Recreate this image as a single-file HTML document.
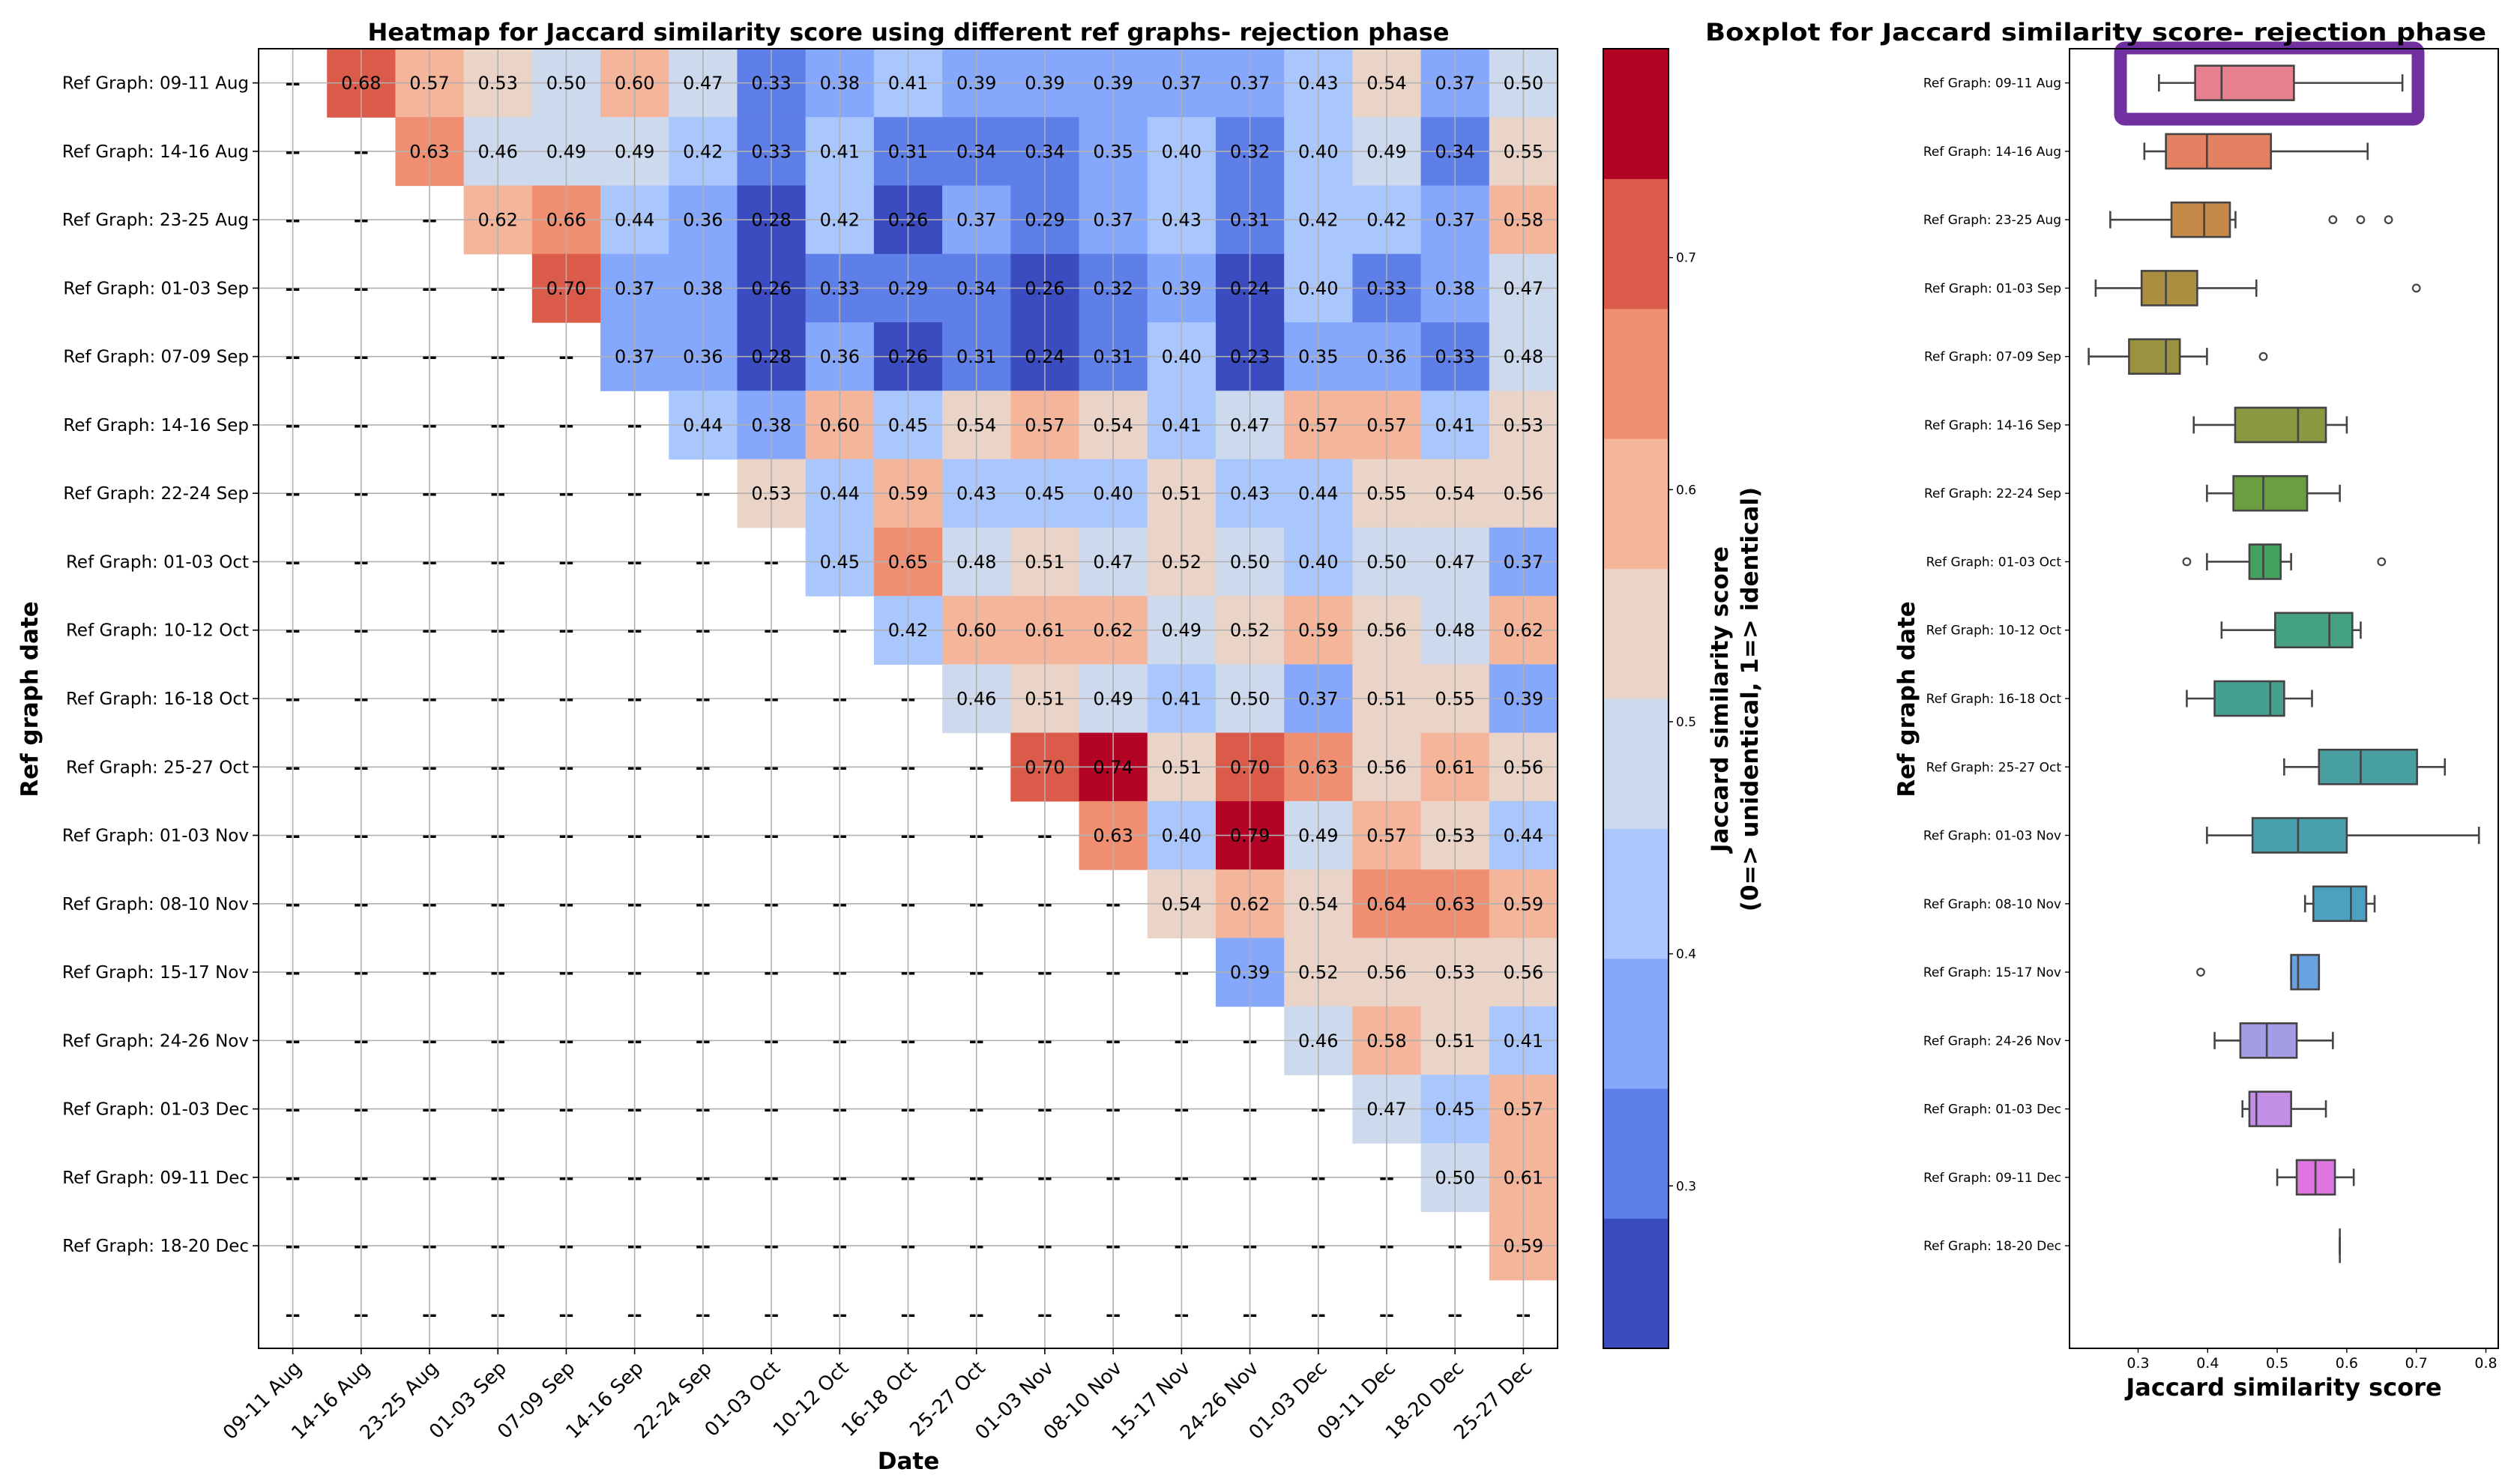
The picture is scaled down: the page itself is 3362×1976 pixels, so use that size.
<!DOCTYPE html>
<html><head><meta charset="utf-8">
<style>
html,body{margin:0;padding:0;background:#fff;}
svg{display:block;font-family:"DejaVu Sans","Liberation Sans",sans-serif;}
</style></head>
<body>
<svg id="fig" width="3362" height="1976" viewBox="0 0 3362 1976" xmlns="http://www.w3.org/2000/svg">
<rect width="3362" height="1976" fill="#fff"/>
<g id="heat"></g>
<g id="cbar"></g>
<g id="box"></g>
<text x="1212" y="54" text-anchor="middle" font-size="32" font-weight="bold" textLength="1443" lengthAdjust="spacingAndGlyphs">Heatmap for Jaccard similarity score using different ref graphs- rejection phase</text>
<text x="2796" y="54" text-anchor="middle" font-size="32" font-weight="bold" textLength="1042" lengthAdjust="spacingAndGlyphs">Boxplot for Jaccard similarity score- rejection phase</text>
<text x="1212" y="1960" text-anchor="middle" font-size="31" font-weight="bold">Date</text>
<text transform="translate(50,933) rotate(-90)" text-anchor="middle" font-size="31" font-weight="bold">Ref graph date</text>
<text transform="translate(2305,933) rotate(-90)" text-anchor="middle" font-size="31" font-weight="bold">Jaccard similarity score</text>
<text transform="translate(2345,933) rotate(-90)" text-anchor="middle" font-size="31" font-weight="bold">(0=&gt; unidentical, 1=&gt; identical)</text>
<text transform="translate(2554,933) rotate(-90)" text-anchor="middle" font-size="31" font-weight="bold">Ref graph date</text>
<text x="3047" y="1862" text-anchor="middle" font-size="32" font-weight="bold">Jaccard similarity score</text>
</svg>
<script>
const NS="http://www.w3.org/2000/svg";
const dates=["09-11 Aug","14-16 Aug","23-25 Aug","01-03 Sep","07-09 Sep","14-16 Sep","22-24 Sep","01-03 Oct","10-12 Oct","16-18 Oct","25-27 Oct","01-03 Nov","08-10 Nov","15-17 Nov","24-26 Nov","01-03 Dec","09-11 Dec","18-20 Dec","25-27 Dec"];
const refLabels=["Ref Graph: 09-11 Aug","Ref Graph: 14-16 Aug","Ref Graph: 23-25 Aug","Ref Graph: 01-03 Sep","Ref Graph: 07-09 Sep","Ref Graph: 14-16 Sep","Ref Graph: 22-24 Sep","Ref Graph: 01-03 Oct","Ref Graph: 10-12 Oct","Ref Graph: 16-18 Oct","Ref Graph: 25-27 Oct","Ref Graph: 01-03 Nov","Ref Graph: 08-10 Nov","Ref Graph: 15-17 Nov","Ref Graph: 24-26 Nov","Ref Graph: 01-03 Dec","Ref Graph: 09-11 Dec","Ref Graph: 18-20 Dec",""];
const row0=[0.68,0.57,0.53,0.50,0.60,0.47,0.33,0.38,0.41,0.39,0.39,0.39,0.37,0.37,0.43,0.54,0.37,0.50];
const row1=[0.63,0.46,0.49,0.49,0.42,0.33,0.41,0.31,0.34,0.34,0.35,0.40,0.32,0.40,0.49,0.34,0.55];
const row2=[0.62,0.66,0.44,0.36,0.28,0.42,0.26,0.37,0.29,0.37,0.43,0.31,0.42,0.42,0.37,0.58];
const row3=[0.70,0.37,0.38,0.26,0.33,0.29,0.34,0.26,0.32,0.39,0.24,0.40,0.33,0.38,0.47];
const row4=[0.37,0.36,0.28,0.36,0.26,0.31,0.24,0.31,0.40,0.23,0.35,0.36,0.33,0.48];
const row5=[0.44,0.38,0.60,0.45,0.54,0.57,0.54,0.41,0.47,0.57,0.57,0.41,0.53];
const row6=[0.53,0.44,0.59,0.43,0.45,0.40,0.51,0.43,0.44,0.55,0.54,0.56];
const row7=[0.45,0.65,0.48,0.51,0.47,0.52,0.50,0.40,0.50,0.47,0.37];
const row8=[0.42,0.60,0.61,0.62,0.49,0.52,0.59,0.56,0.48,0.62];
const row9=[0.46,0.51,0.49,0.41,0.50,0.37,0.51,0.55,0.39];
const row10=[0.70,0.74,0.51,0.70,0.63,0.56,0.61,0.56];
const row11=[0.63,0.40,0.79,0.49,0.57,0.53,0.44];
const row12=[0.54,0.62,0.54,0.64,0.63,0.59];
const row13=[0.39,0.52,0.56,0.53,0.56];
const row14=[0.46,0.58,0.51,0.41];
const row15=[0.47,0.45,0.57];
const row16=[0.50,0.61];
const row17=[0.59];
const row18=[];
const heatRows=[row0,row1,row2,row3,row4,row5,row6,row7,row8,row9,row10,row11,row12,row13,row14,row15,row16,row17,row18];
const cbTicks=[0.3,0.4,0.5,0.6,0.7];
const whiskLo=[0.330,0.309,0.260,0.239,0.229,0.380,0.399,0.399,0.420,0.370,0.510,0.399,0.540,0.520,0.410,0.450,0.500,0.590];
const q1=[0.382,0.340,0.348,0.305,0.287,0.4395,0.437,0.460,0.497,0.410,0.560,0.4645,0.552,0.520,0.447,0.460,0.528,0.590];
const med=[0.420,0.399,0.395,0.340,0.340,0.530,0.480,0.480,0.575,0.490,0.620,0.530,0.606,0.530,0.485,0.470,0.555,0.590];
const q3=[0.524,0.491,0.432,0.385,0.360,0.570,0.543,0.505,0.608,0.510,0.701,0.600,0.628,0.560,0.528,0.520,0.583,0.590];
const whiskHi=[0.680,0.630,0.440,0.470,0.399,0.600,0.590,0.520,0.620,0.550,0.741,0.790,0.640,0.560,0.580,0.570,0.610,0.590];
const outliers=[[],[],[0.58,0.62,0.66],[0.70],[0.48],[],[],[0.37,0.65],[],[],[],[],[],[0.39],[],[],[],[]];
const boxColors=["#e7808f","#e38162","#c58a47","#ab8e40","#9b923f","#8a9842","#6b9e40","#43a35e","#45a281","#46a090","#489fa0","#4a9faf","#4da0c0","#6aa1e0","#a49de6","#c28ee6","#de74e0","#de74e0"];
const xTicksBox=[0.3,0.4,0.5,0.6,0.7,0.8];
const binColors=["#3b4cc0","#5f7fe8","#85a8fc","#aac7fd","#cdd9ec","#ead4c8","#f5b59a","#ef8e71","#da5b4a","#b40426"];

const vmin=0.23,vmax=0.79;
const HL=345,HT=65,HR=2078,HB=1799;
const cw=(HR-HL)/19,ch=(HB-HT)/19;
function colX(i){return HL+cw*(i+0.5);}
function rowY(i){return HT+ch*(i+0.5);}
function colorFor(v){let b=Math.floor((v-vmin)/(vmax-vmin)*10+1e-9);b=Math.max(0,Math.min(9,b));return binColors[b];}
function el(tag,attrs,parent){const e=document.createElementNS(NS,tag);for(const k in attrs)e.setAttribute(k,attrs[k]);parent.appendChild(e);return e;}

const heat=document.getElementById('heat');
heatRows.forEach((vals,r)=>{
  vals.forEach((v,k)=>{
    const c=r+1+k;
    const rc=el('rect',{x:HL+cw*c,y:HT+ch*r,width:cw+0.6,height:ch+0.6,fill:colorFor(v)},heat);
    
    
  });
});
for(let i=0;i<19;i++){
  const gv=el('line',{x1:colX(i),x2:colX(i),y1:HT,y2:HB,stroke:'#b0b0b0','stroke-width':1.6},heat);
  
  
  if(i<18){
    const gh=el('line',{x1:HL,x2:HR,y1:rowY(i),y2:rowY(i),stroke:'#b0b0b0','stroke-width':1.6},heat);
    
    
  }
}
heatRows.forEach((vals,r)=>{
  for(let c=0;c<19;c++){
    const k=c-(r+1);
    const txt=(k>=0&&k<vals.length)?vals[k].toFixed(2):'--';
    const t=el('text',{x:colX(c),y:rowY(r)+8.5,'text-anchor':'middle','font-size':24,fill:'#000','font-weight':txt==='--'?'bold':'normal'},heat);
    t.textContent=txt;
    
    
  }
});
const hf=el('rect',{x:HL,y:HT,width:HR-HL,height:HB-HT,fill:'none',stroke:'#000','stroke-width':2},heat);


refLabels.forEach((lab,r)=>{
  if(!lab)return;
  el('line',{x1:HL-8,x2:HL,y1:rowY(r),y2:rowY(r),stroke:'#000','stroke-width':1.6},heat);
  const t=el('text',{x:HL-13,y:rowY(r)+8,'text-anchor':'end','font-size':23},heat);
  t.textContent=lab;
  
  
});
dates.forEach((d,c)=>{
  const x=colX(c);
  el('line',{x1:x,x2:x,y1:HB,y2:HB+8,stroke:'#000','stroke-width':1.6},heat);
  const t=el('text',{transform:`translate(${x+13},${HB+28}) rotate(-45)`,'text-anchor':'end','font-size':26},heat);
  t.textContent=d;
  
  
});

const cb=document.getElementById('cbar');
const CL=2139,CR=2226;
function cbY(v){return HB-(v-vmin)/(vmax-vmin)*(HB-HT);}
binColors.forEach((col,i)=>{
  const v0=vmin+(vmax-vmin)*i/10,v1=vmin+(vmax-vmin)*(i+1)/10;
  const r=el('rect',{x:CL,y:cbY(v1),width:CR-CL,height:cbY(v0)-cbY(v1)+0.5,fill:col},cb);
  
  
});
el('rect',{x:CL,y:HT,width:CR-CL,height:HB-HT,fill:'none',stroke:'#000','stroke-width':2},cb);
cbTicks.forEach(v=>{
  const y=cbY(v);
  el('line',{x1:CR,x2:CR+6,y1:y,y2:y,stroke:'#000','stroke-width':1.5},cb);
  const t=el('text',{x:CR+10,y:y+6,'font-size':17},cb);
  t.textContent=v.toFixed(1);
  
  
});

const bx=document.getElementById('box');
const BL=2761,BR=3333;
function xB(v){return 2852.5+(v-0.3)*928;}
const bh=46;
const hl=el('rect',{x:2829,y:64,width:397,height:95,rx:6,fill:'none',stroke:'#7030a0','stroke-width':17},bx);


med.forEach((m,i)=>{
  const y=rowY(i);
  const g=el('g',{},bx);
  
  
  const st={stroke:'#444','stroke-width':2.6};
  el('line',Object.assign({x1:xB(whiskLo[i]),x2:xB(q1[i]),y1:y,y2:y},st),g);
  el('line',Object.assign({x1:xB(q3[i]),x2:xB(whiskHi[i]),y1:y,y2:y},st),g);
  el('line',Object.assign({x1:xB(whiskLo[i]),x2:xB(whiskLo[i]),y1:y-bh/4,y2:y+bh/4},st),g);
  el('line',Object.assign({x1:xB(whiskHi[i]),x2:xB(whiskHi[i]),y1:y-bh/4,y2:y+bh/4},st),g);
  if(q3[i]>q1[i]) el('rect',Object.assign({x:xB(q1[i]),y:y-bh/2,width:xB(q3[i])-xB(q1[i]),height:bh,fill:boxColors[i]},st),g);
  el('line',Object.assign({x1:xB(m),x2:xB(m),y1:y-bh/2,y2:y+bh/2},st),g);
  outliers[i].forEach(o=>{
    const c=el('circle',{cx:xB(o),cy:y,r:4.8,fill:'none',stroke:'#444','stroke-width':2.2},g);
    
    
  });
});
el('rect',{x:BL,y:HT,width:BR-BL,height:HB-HT,fill:'none',stroke:'#000','stroke-width':2},bx);
refLabels.forEach((lab,r)=>{
  if(!lab)return;
  el('line',{x1:BL-6,x2:BL,y1:rowY(r),y2:rowY(r),stroke:'#000','stroke-width':1.4},bx);
  const t=el('text',{x:BL-11,y:rowY(r)+6,'text-anchor':'end','font-size':17},bx);
  t.textContent=lab;
  
  
});
xTicksBox.forEach(v=>{
  const x=xB(v);
  el('line',{x1:x,x2:x,y1:HB,y2:HB+6,stroke:'#000','stroke-width':1.4},bx);
  const t=el('text',{x:x,y:HB+26,'text-anchor':'middle','font-size':19},bx);
  t.textContent=v.toFixed(1);
  
  
});
</script>
</body></html>
